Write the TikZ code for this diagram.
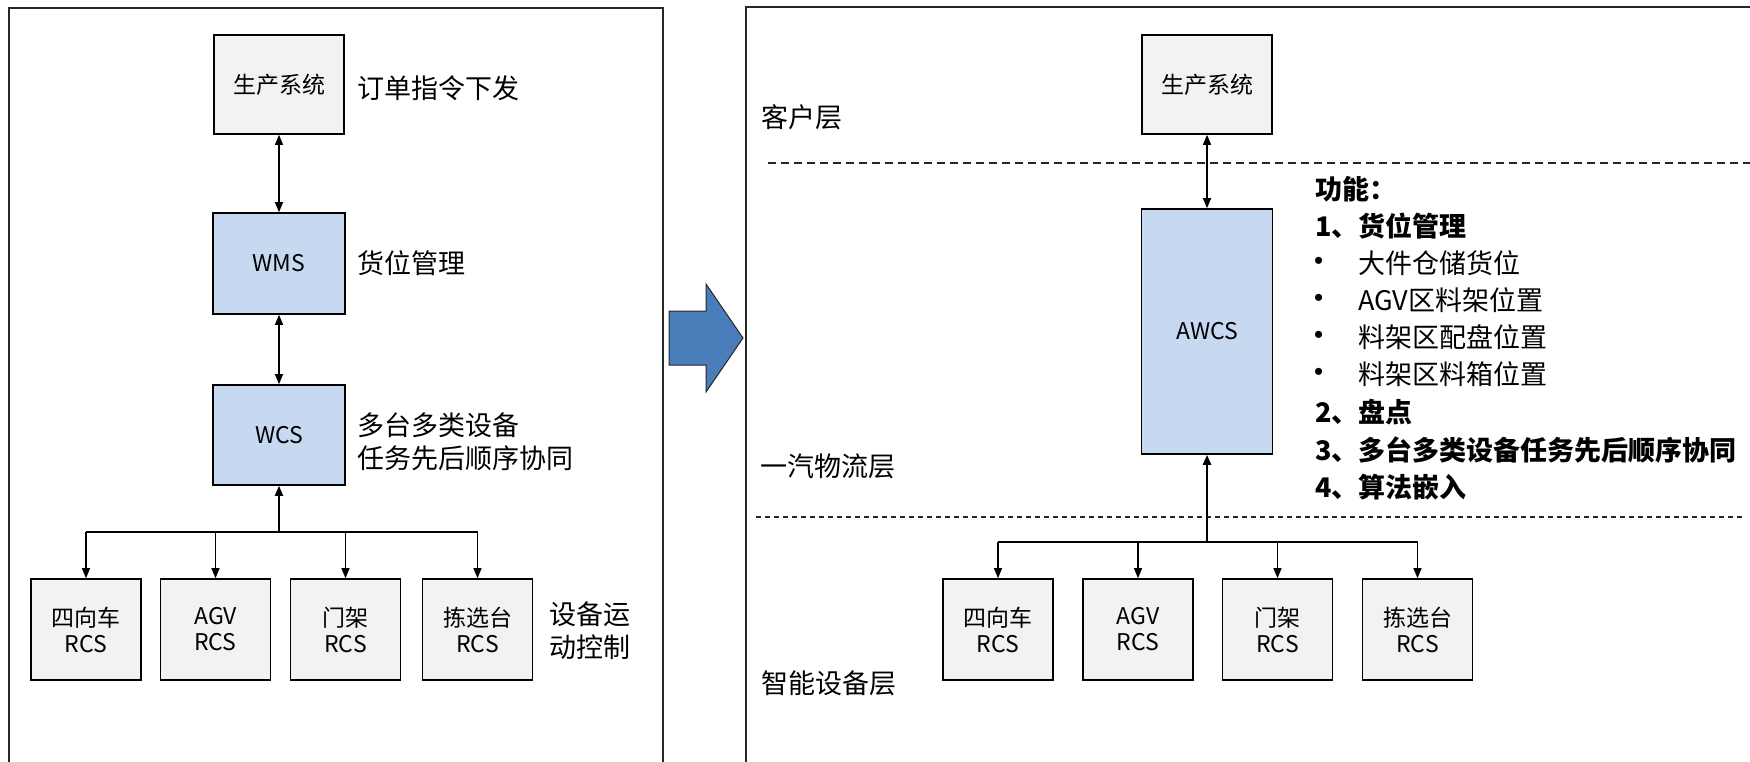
\documentclass[tikz,border=0pt]{standalone}
\usepackage{fontspec}
\setmainfont{Noto Sans CJK SC}
\newfontfamily\bulletfont{Liberation Sans}
\usetikzlibrary{arrows.meta}
\definecolor{boxgrey}{HTML}{F2F2F2}
\definecolor{boxblue}{HTML}{C6D9F1}
\definecolor{bigblue}{HTML}{4A7EBB}
\definecolor{framec}{HTML}{262626}
\tikzset{
  box/.style={draw=black, line width=1.6pt, inner sep=0pt, align=center,
    font=\fontsize{23}{26}\selectfont},
  greybox/.style={box, fill=boxgrey},
  bluebox/.style={box, fill=boxblue},
  rcsbox/.style={greybox, minimum width=110pt, minimum height=101pt},
  lbl/.style={anchor=west, inner sep=0pt, align=left, font=\fontsize{27}{33}\selectfont},
  fn/.style={anchor=west, inner sep=0pt, font=\fontsize{27}{33}\selectfont},
  fnb/.style={fn, font=\fontsize{27}{33}\selectfont\bfseries},
  bul/.style={anchor=west, inner sep=0pt, font=\bulletfont\fontsize{26}{30}\selectfont},
  conn/.style={line width=1.3pt, draw=black},
  arr/.style={conn, -{Triangle[length=10pt,width=8pt]}},
  dbl/.style={conn, {Triangle[length=10pt,width=8pt]}-{Triangle[length=10pt,width=8pt]}},
  frame/.style={draw=framec, line width=1.6pt},
}
\begin{document}
\begin{tikzpicture}[x=1pt,y=-1pt]
\useasboundingbox (0,0) rectangle (1750,762);
\clip (0,0) rectangle (1750,762);
\fill[white] (0,0) rectangle (1750,762);

% frames
\draw[frame] (9,800) -- (9,8) -- (663,8) -- (663,800);
\draw[frame] (746,800) -- (746,7) -- (1800,7);

% big arrow
\draw[fill=bigblue, draw=black!85, line width=1pt]
  (669,311) -- (706,311) -- (706,284) -- (743,338) -- (706,392) -- (706,365) -- (669,365) -- cycle;

% ---------- left panel ----------
\node[greybox, minimum width=130pt, minimum height=99pt] (lprod) at (279,84.5) {生产系统};
\node[bluebox, minimum width=132pt, minimum height=101pt] (lwms) at (279,263.5) {WMS};
\node[bluebox, minimum width=132pt, minimum height=100pt] (lwcs) at (279,435) {WCS};
\node[rcsbox] (l1) at (86,629.5) {四向车\\RCS};
\node[rcsbox] (l2) at (215.5,629.5) {AGV\\RCS};
\node[rcsbox] (l3) at (345.5,629.5) {门架\\RCS};
\node[rcsbox] (l4) at (477.5,629.5) {拣选台\\RCS};

\node[lbl] (t1) at (357,88) {订单指令下发};
\node[lbl] (t2) at (357,263) {货位管理};
\node[lbl] (t3) at (357,441.5) {多台多类设备\\任务先后顺序协同};
\node[lbl] (t4) at (549,630.5) {设备运\\动控制};

\draw[dbl] (lprod) -- (lwms);
\draw[dbl] (lwms) -- (lwcs);
\coordinate (lbus) at (279,532);
\draw[arr, line width=2pt] (lbus) -- (lwcs.south);
\draw[conn, line width=1.6pt] (l1.north |- lbus) -- (l4.north |- lbus);
\foreach \b in {l1,l2,l3,l4}{
  \draw[arr] (\b.north |- lbus) -- (\b.north);
}

% ---------- right panel ----------
\draw[draw=framec, line width=2pt, dash pattern=on 8pt off 5pt] (768,163) -- (1760,163);
\draw[draw=framec, line width=1.4pt, dash pattern=on 5pt off 4pt] (756,517) -- (1743,517);

\node[lbl] (layer1) at (761,117) {客户层};
\node[lbl] (layer2) at (760,466) {一汽物流层};
\node[lbl] (layer3) at (761,683) {智能设备层};

\node[greybox, minimum width=130pt, minimum height=99pt] (rprod) at (1207,84.5) {生产系统};
\node[bluebox, minimum width=131pt, minimum height=245pt] (awcs) at (1207,331.5) {AWCS};
\node[rcsbox] (r1) at (998,629.5) {四向车\\RCS};
\node[rcsbox] (r2) at (1138,629.5) {AGV\\RCS};
\node[rcsbox] (r3) at (1277.5,629.5) {门架\\RCS};
\node[rcsbox] (r4) at (1417.5,629.5) {拣选台\\RCS};

\draw[dbl] (rprod) -- (awcs);
\coordinate (rbus) at (1207,542);
\draw[arr, line width=2.4pt] (rbus) -- (awcs.south);
\draw[conn, line width=2pt] (r1.north |- rbus) -- (r4.north |- rbus);
\foreach \b in {r1,r2,r3,r4}{
  \draw[arr] (\b.north |- rbus) -- (\b.north);
}

% function list
\node[fnb] (f0) at (1315,189) {功能：};
\node[fnb] (f1) at (1315,226) {1、货位管理};
\node[bul] (b1) at (1314,263) {•};
\node[fn] (f1a) at (1358,263) {大件仓储货位};
\node[bul] (b2) at (1314,300) {•};
\node[fn] (f1b) at (1358,300) {AGV区料架位置};
\node[bul] (b3) at (1314,337) {•};
\node[fn] (f1c) at (1358,337) {料架区配盘位置};
\node[bul] (b4) at (1314,374) {•};
\node[fn] (f1d) at (1358,374) {料架区料箱位置};
\node[fnb] (f2) at (1315,412) {2、盘点};
\node[fnb] (f3) at (1315,450) {3、多台多类设备任务先后顺序协同};
\node[fnb] (f4) at (1315,487) {4、算法嵌入};
\end{tikzpicture}
\end{document}
